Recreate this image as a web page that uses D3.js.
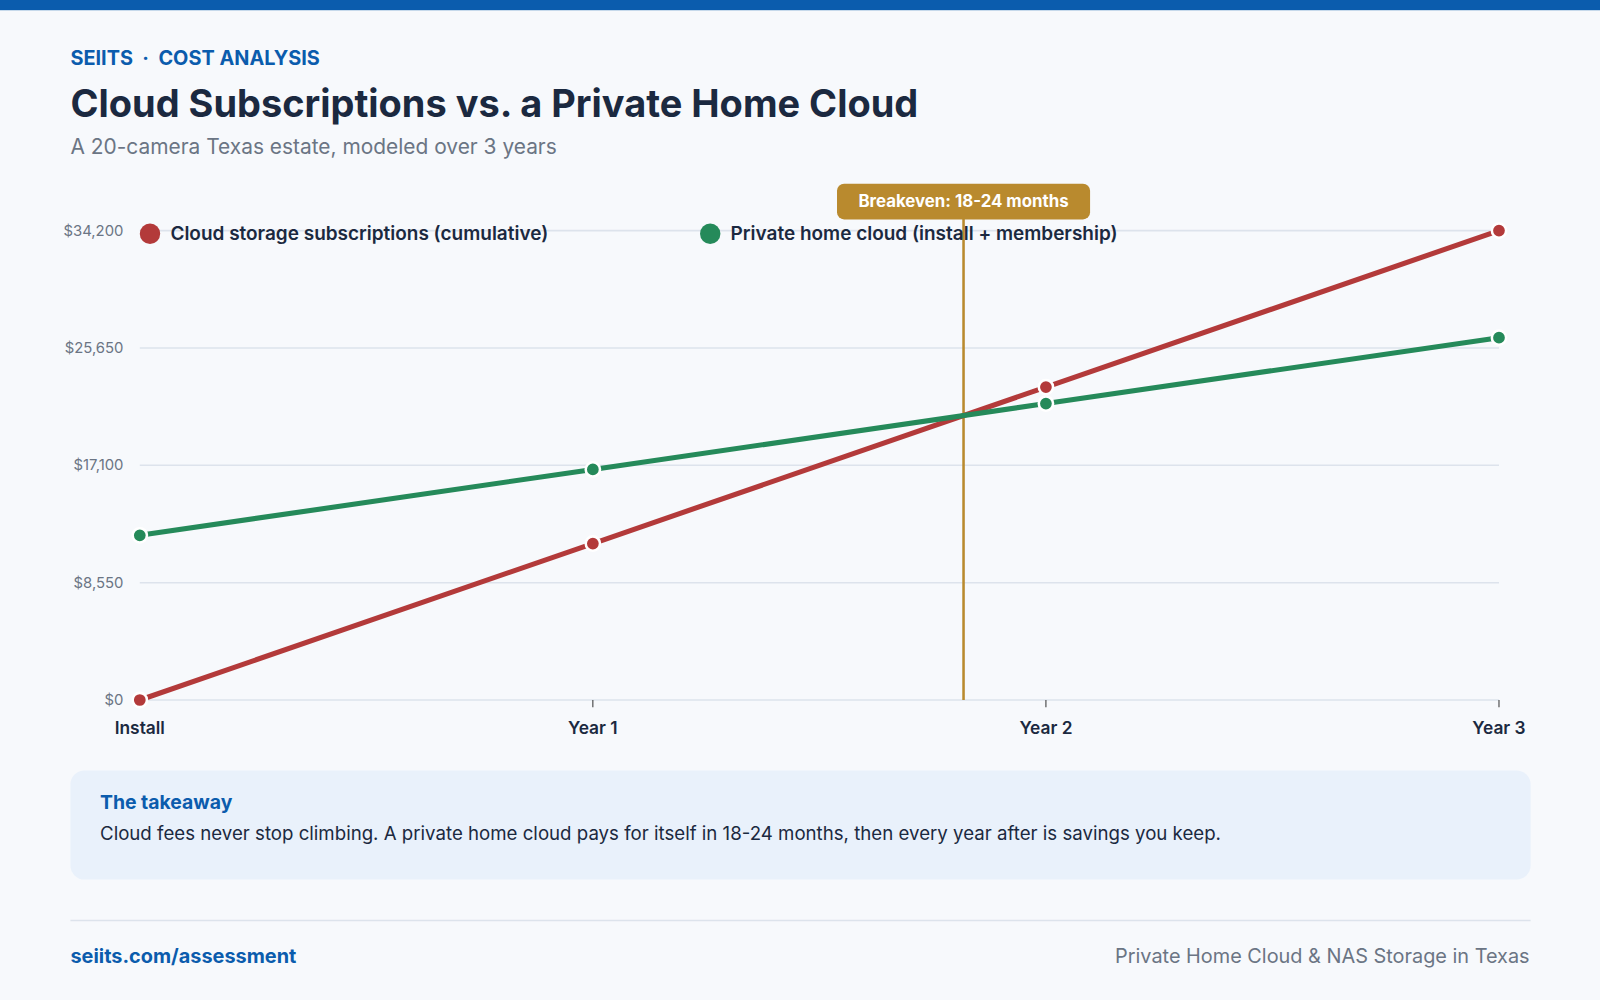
<!DOCTYPE html>
<html><head><meta charset="utf-8">
<script src="https://cdn.jsdelivr.net/npm/d3@7"></script>
<style>body{margin:0;background:#f7f9fc;font-family:Inter,sans-serif}</style>
</head><body>
<svg id="c" width="1600" height="1000" viewBox="0 0 1568 980"></svg>
<script>
const categories = ["Install","Year 1","Year 2","Year 3"];
const cloudValues = [0, 11400, 22800, 34200];
const privateValues = [12000, 16800, 21600, 26400];
const yTicks = [0, 8550, 17100, 25650, 34200];
const seriesNames = ["Cloud storage subscriptions (cumulative)","Private home cloud (install + membership)"];
const colors = ["#b33a3a","#258a5a"];

const svg = d3.select("#c");
svg.append("rect").attr("width",1568).attr("height",980).attr("fill","#f7f9fc");
svg.append("rect").attr("width",1568).attr("height",10).attr("fill","#0b5cad");
svg.append("text").attr("x",69).attr("y",64).text("SEIITS  ·  COST ANALYSIS").attr("fill","#0b5cad").attr("font-size",19.5).attr("font-weight",700).style("white-space","pre");
svg.append("text").attr("x",69).attr("y",115).text("Cloud Subscriptions vs. a Private Home Cloud").attr("fill","#1b2940").attr("font-size",37.2).attr("font-weight",700);
svg.append("text").attr("x",69).attr("y",151).text("A 20-camera Texas estate, modeled over 3 years").attr("fill","#6b7584").attr("font-size",20.5);

const x = d3.scalePoint().domain(categories).range([137,1469]);
const y = d3.scaleLinear().domain([0,34200]).range([686,226]);

const g = svg.append("g");
yTicks.forEach(t=>{
  g.append("line").attr("x1",137).attr("x2",1469).attr("y1",y(t)).attr("y2",y(t)).attr("stroke","#dde3ec").attr("stroke-width",1.5);
  g.append("text").attr("x",121).attr("y",y(t)+5).attr("text-anchor","end").attr("font-size",14.6).attr("fill","#6b7584").text("$"+d3.format(",")(t));
});
categories.forEach((c,i)=>{
  g.append("line").attr("x1",x(c)).attr("x2",x(c)).attr("y1",686).attr("y2",693).attr("stroke","#333");
  g.append("text").attr("x",x(c)).attr("y",719).attr("text-anchor","middle").attr("font-size",17).attr("font-weight",600).attr("fill","#1b2940").text(c);
});

const s1=(cloudValues[2]-cloudValues[1]), s2=(privateValues[2]-privateValues[1]);
const t=(privateValues[1]-cloudValues[1])/(s1-s2);
const bx = x("Year 1") + t*(x("Year 2")-x("Year 1"));
g.append("line").attr("x1",bx).attr("x2",bx).attr("y1",205).attr("y2",686).attr("stroke","#b98a2e").attr("stroke-width",2.5);
g.append("rect").attr("x",bx-124).attr("y",180).attr("width",248).attr("height",35).attr("rx",7).attr("fill","#b98a2e");
g.append("text").attr("x",bx).attr("y",203).attr("text-anchor","middle").attr("font-size",16.5).attr("font-weight",700).attr("fill","#fff").text("Breakeven: 18-24 months");

[cloudValues, privateValues].forEach((vals,k)=>{
  const line=d3.line().x((d,i)=>x(categories[i])).y(d=>y(d));
  g.append("path").datum(vals).attr("d",line).attr("fill","none").attr("stroke",colors[k]).attr("stroke-width",5);
});
[cloudValues, privateValues].forEach((vals,k)=>{
  g.selectAll(null).data(vals).enter().append("circle").attr("cx",(d,i)=>x(categories[i])).attr("cy",d=>y(d)).attr("r",7).attr("fill",colors[k]).attr("stroke","#fff").attr("stroke-width",2.5);
});

const lx=[147,696];
seriesNames.forEach((n,k)=>{
  g.append("circle").attr("cx",lx[k]).attr("cy",229).attr("r",10).attr("fill",colors[k]);
  g.append("text").attr("x",lx[k]+20).attr("y",235).attr("font-size",18.6).attr("font-weight",600).attr("fill","#1b2940").text(n);
});

svg.append("rect").attr("x",69).attr("y",755).attr("width",1431).attr("height",107).attr("rx",14).attr("fill","#e9f1fb");
svg.append("text").attr("x",98).attr("y",793).attr("font-size",19).attr("font-weight",700).attr("fill","#0b5cad").text("The takeaway");
svg.append("text").attr("x",98).attr("y",823).attr("font-size",18.3).attr("fill","#1b2940").text("Cloud fees never stop climbing. A private home cloud pays for itself in 18-24 months, then every year after is savings you keep.");
svg.append("line").attr("x1",69).attr("x2",1500).attr("y1",902).attr("y2",902).attr("stroke","#dde3ec").attr("stroke-width",1.5);
svg.append("text").attr("x",69).attr("y",944).attr("font-size",19.5).attr("font-weight",700).attr("fill","#0b5cad").text("seiits.com/assessment");
svg.append("text").attr("x",1499).attr("y",944).attr("text-anchor","end").attr("font-size",19.5).attr("fill","#6b7584").text("Private Home Cloud & NAS Storage in Texas");
</script>
</body></html>
